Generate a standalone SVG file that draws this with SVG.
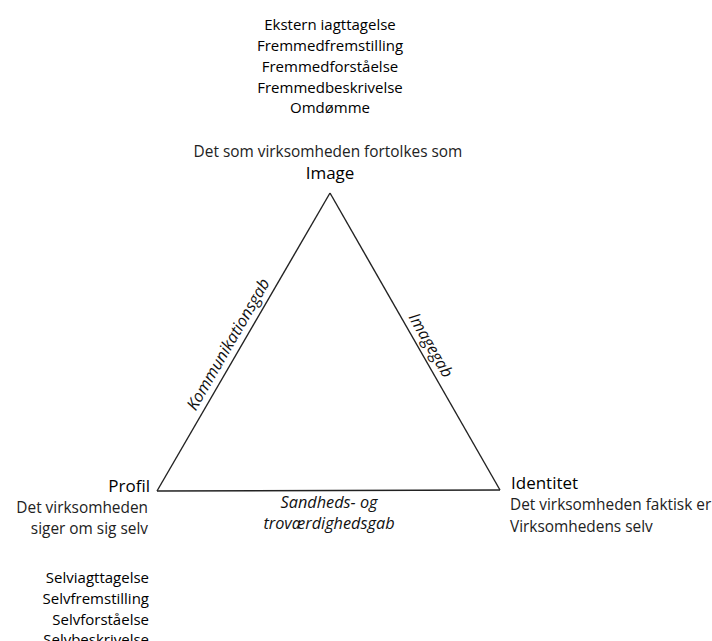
<svg xmlns="http://www.w3.org/2000/svg" width="712" height="641" viewBox="0 0 712 641">
<style>
text{font-family:"Open Sans","Noto Sans","DejaVu Sans",sans-serif;fill:#111;}
.l{font-size:15px;fill:#000;}
.t{font-size:15.4px;fill:#222;}
.h{font-size:17px;fill:#000;}
.g{font-size:16.3px;font-style:italic;fill:#111;}
.edge{stroke:#222;stroke-width:1.4;fill:none;}
</style>
<rect width="712" height="641" fill="#fff"/>
<g id="connectors">
<line class="edge" x1="330" y1="193" x2="157" y2="491"/>
<line class="edge" x1="330" y1="193" x2="500" y2="490"/>
<line class="edge" x1="157" y1="491" x2="500" y2="490"/>
<text class="g" text-anchor="middle" transform="translate(233,347) rotate(-60)">Kommunikationsgab</text>
<text class="g" text-anchor="middle" transform="translate(426,348) rotate(60)">Imagegab</text>
<text class="g" text-anchor="middle" x="329" y="508">Sandheds- og</text>
<text class="g" text-anchor="middle" x="329" y="529">troværdighedsgab</text>
</g>
<g id="image" text-anchor="middle">
<text class="l" x="330" y="30">Ekstern iagttagelse</text>
<text class="l" x="330" y="51">Fremmedfremstilling</text>
<text class="l" x="330" y="72">Fremmedforståelse</text>
<text class="l" x="330" y="93">Fremmedbeskrivelse</text>
<text class="l" x="330" y="113">Omdømme</text>
<text class="t" x="328" y="157">Det som virksomheden fortolkes som</text>
<text class="h" x="330" y="179">Image</text>
</g>
<g id="profil" text-anchor="end">
<text class="h" x="150" y="492">Profil</text>
<text class="t" x="148" y="513">Det virksomheden</text>
<text class="t" x="148" y="534">siger om sig selv</text>
<text class="l" x="149" y="583">Selviagttagelse</text>
<text class="l" x="149" y="604">Selvfremstilling</text>
<text class="l" x="149" y="625">Selvforståelse</text>
<text class="l" x="149" y="645">Selvbeskrivelse</text>
</g>
<g id="identitet">
<text class="h" x="511" y="489">Identitet</text>
<text class="t" x="510" y="510">Det virksomheden faktisk er</text>
<text class="t" x="510" y="532">Virksomhedens selv</text>
</g>
</svg>
